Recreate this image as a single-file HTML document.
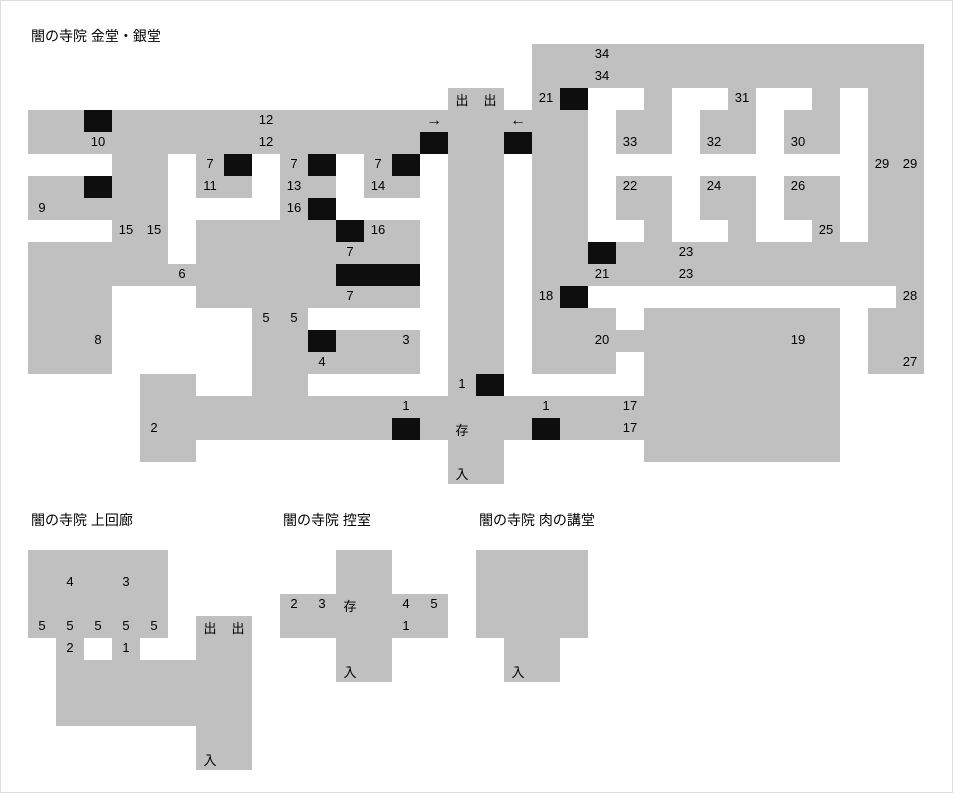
<!DOCTYPE html>
<html><head><meta charset="utf-8"><style>
html,body{margin:0;padding:0;background:#fff}
#w{position:relative;width:953px;height:793px;overflow:hidden}
#bd{position:absolute;left:0;top:0;width:953px;height:793px;box-sizing:border-box;border:1px solid #ddd}
.g,.b,.t,.h{position:absolute}
.g{background:#c0c0c0}
.b{background:#0e0e0e}
.t{width:28px;height:22px;line-height:22px;margin-top:2px;text-align:center;font:13px "Liberation Sans","Noto Sans CJK JP",sans-serif;color:#000}
.a{font-size:16px}
.h{font:14px "Liberation Sans","Noto Sans CJK JP",sans-serif;color:#000;white-space:nowrap;line-height:16px}
</style></head><body><div id="w"><div id="bd"></div>
<div class="h" style="left:31px;top:28px">闇の寺院 金堂・銀堂</div>
<div class="h" style="left:31px;top:512px">闇の寺院 上回廊</div>
<div class="h" style="left:283px;top:512px">闇の寺院 控室</div>
<div class="h" style="left:479px;top:512px">闇の寺院 肉の講堂</div>

<div class="g" style="left:532px;top:44px;width:392px;height:44px"></div>
<div class="g" style="left:448px;top:88px;width:56px;height:396px"></div>
<div class="g" style="left:532px;top:88px;width:28px;height:286px"></div>
<div class="g" style="left:644px;top:88px;width:28px;height:22px"></div>
<div class="g" style="left:728px;top:88px;width:28px;height:22px"></div>
<div class="g" style="left:812px;top:88px;width:28px;height:22px"></div>
<div class="g" style="left:896px;top:88px;width:28px;height:286px"></div>
<div class="g" style="left:868px;top:88px;width:28px;height:198px"></div>
<div class="g" style="left:868px;top:308px;width:28px;height:66px"></div>
<div class="g" style="left:560px;top:110px;width:28px;height:176px"></div>
<div class="g" style="left:560px;top:308px;width:56px;height:66px"></div>
<div class="g" style="left:28px;top:110px;width:420px;height:22px"></div>
<div class="g" style="left:504px;top:110px;width:28px;height:22px"></div>
<div class="g" style="left:28px;top:132px;width:392px;height:22px"></div>
<div class="g" style="left:616px;top:110px;width:56px;height:44px"></div>
<div class="g" style="left:700px;top:110px;width:56px;height:44px"></div>
<div class="g" style="left:784px;top:110px;width:56px;height:44px"></div>
<div class="g" style="left:616px;top:176px;width:56px;height:44px"></div>
<div class="g" style="left:700px;top:176px;width:56px;height:44px"></div>
<div class="g" style="left:784px;top:176px;width:56px;height:44px"></div>
<div class="g" style="left:644px;top:220px;width:28px;height:22px"></div>
<div class="g" style="left:728px;top:220px;width:28px;height:22px"></div>
<div class="g" style="left:812px;top:220px;width:28px;height:22px"></div>
<div class="g" style="left:616px;top:242px;width:308px;height:44px"></div>
<div class="g" style="left:588px;top:264px;width:28px;height:22px"></div>
<div class="g" style="left:112px;top:154px;width:56px;height:22px"></div>
<div class="g" style="left:196px;top:154px;width:28px;height:22px"></div>
<div class="g" style="left:280px;top:154px;width:28px;height:22px"></div>
<div class="g" style="left:364px;top:154px;width:28px;height:22px"></div>
<div class="g" style="left:28px;top:176px;width:56px;height:22px"></div>
<div class="g" style="left:112px;top:176px;width:56px;height:22px"></div>
<div class="g" style="left:196px;top:176px;width:56px;height:22px"></div>
<div class="g" style="left:280px;top:176px;width:56px;height:22px"></div>
<div class="g" style="left:364px;top:176px;width:56px;height:22px"></div>
<div class="g" style="left:28px;top:198px;width:140px;height:22px"></div>
<div class="g" style="left:280px;top:198px;width:28px;height:22px"></div>
<div class="g" style="left:112px;top:220px;width:56px;height:22px"></div>
<div class="g" style="left:196px;top:220px;width:140px;height:22px"></div>
<div class="g" style="left:364px;top:220px;width:56px;height:22px"></div>
<div class="g" style="left:28px;top:242px;width:140px;height:22px"></div>
<div class="g" style="left:196px;top:242px;width:224px;height:22px"></div>
<div class="g" style="left:28px;top:264px;width:308px;height:22px"></div>
<div class="g" style="left:28px;top:286px;width:84px;height:88px"></div>
<div class="g" style="left:196px;top:286px;width:224px;height:22px"></div>
<div class="g" style="left:252px;top:308px;width:56px;height:88px"></div>
<div class="g" style="left:308px;top:330px;width:112px;height:44px"></div>
<div class="g" style="left:140px;top:374px;width:56px;height:88px"></div>
<div class="g" style="left:196px;top:396px;width:644px;height:44px"></div>
<div class="g" style="left:644px;top:308px;width:196px;height:154px"></div>
<div class="g" style="left:616px;top:330px;width:28px;height:22px"></div>

<div class="b" style="left:560px;top:88px;width:28px;height:22px"></div>
<div class="b" style="left:84px;top:110px;width:28px;height:22px"></div>
<div class="b" style="left:420px;top:132px;width:28px;height:22px"></div>
<div class="b" style="left:504px;top:132px;width:28px;height:22px"></div>
<div class="b" style="left:224px;top:154px;width:28px;height:22px"></div>
<div class="b" style="left:308px;top:154px;width:28px;height:22px"></div>
<div class="b" style="left:392px;top:154px;width:28px;height:22px"></div>
<div class="b" style="left:84px;top:176px;width:28px;height:22px"></div>
<div class="b" style="left:308px;top:198px;width:28px;height:22px"></div>
<div class="b" style="left:336px;top:220px;width:28px;height:22px"></div>
<div class="b" style="left:588px;top:242px;width:28px;height:22px"></div>
<div class="b" style="left:336px;top:264px;width:84px;height:22px"></div>
<div class="b" style="left:560px;top:286px;width:28px;height:22px"></div>
<div class="b" style="left:308px;top:330px;width:28px;height:22px"></div>
<div class="b" style="left:476px;top:374px;width:28px;height:22px"></div>
<div class="b" style="left:392px;top:418px;width:28px;height:22px"></div>
<div class="b" style="left:532px;top:418px;width:28px;height:22px"></div>

<div class="t" style="left:588px;top:44px">34</div>
<div class="t" style="left:588px;top:66px">34</div>
<div class="t" style="left:448px;top:88px">出</div>
<div class="t" style="left:476px;top:88px">出</div>
<div class="t" style="left:532px;top:88px">21</div>
<div class="t" style="left:728px;top:88px">31</div>
<div class="t" style="left:252px;top:110px">12</div>
<div class="t a" style="left:420px;top:110px">→</div>
<div class="t a" style="left:504px;top:110px">←</div>
<div class="t" style="left:84px;top:132px">10</div>
<div class="t" style="left:252px;top:132px">12</div>
<div class="t" style="left:616px;top:132px">33</div>
<div class="t" style="left:700px;top:132px">32</div>
<div class="t" style="left:784px;top:132px">30</div>
<div class="t" style="left:196px;top:154px">7</div>
<div class="t" style="left:280px;top:154px">7</div>
<div class="t" style="left:364px;top:154px">7</div>
<div class="t" style="left:868px;top:154px">29</div>
<div class="t" style="left:896px;top:154px">29</div>
<div class="t" style="left:196px;top:176px">11</div>
<div class="t" style="left:280px;top:176px">13</div>
<div class="t" style="left:364px;top:176px">14</div>
<div class="t" style="left:616px;top:176px">22</div>
<div class="t" style="left:700px;top:176px">24</div>
<div class="t" style="left:784px;top:176px">26</div>
<div class="t" style="left:28px;top:198px">9</div>
<div class="t" style="left:280px;top:198px">16</div>
<div class="t" style="left:112px;top:220px">15</div>
<div class="t" style="left:140px;top:220px">15</div>
<div class="t" style="left:364px;top:220px">16</div>
<div class="t" style="left:812px;top:220px">25</div>
<div class="t" style="left:336px;top:242px">7</div>
<div class="t" style="left:672px;top:242px">23</div>
<div class="t" style="left:168px;top:264px">6</div>
<div class="t" style="left:588px;top:264px">21</div>
<div class="t" style="left:672px;top:264px">23</div>
<div class="t" style="left:336px;top:286px">7</div>
<div class="t" style="left:532px;top:286px">18</div>
<div class="t" style="left:896px;top:286px">28</div>
<div class="t" style="left:252px;top:308px">5</div>
<div class="t" style="left:280px;top:308px">5</div>
<div class="t" style="left:84px;top:330px">8</div>
<div class="t" style="left:392px;top:330px">3</div>
<div class="t" style="left:588px;top:330px">20</div>
<div class="t" style="left:784px;top:330px">19</div>
<div class="t" style="left:308px;top:352px">4</div>
<div class="t" style="left:896px;top:352px">27</div>
<div class="t" style="left:448px;top:374px">1</div>
<div class="t" style="left:392px;top:396px">1</div>
<div class="t" style="left:532px;top:396px">1</div>
<div class="t" style="left:616px;top:396px">17</div>
<div class="t" style="left:140px;top:418px">2</div>
<div class="t" style="left:448px;top:418px">存</div>
<div class="t" style="left:616px;top:418px">17</div>
<div class="t" style="left:448px;top:462px">入</div>

<div class="g" style="left:28px;top:550px;width:140px;height:88px"></div>
<div class="g" style="left:196px;top:616px;width:56px;height:154px"></div>
<div class="g" style="left:56px;top:638px;width:28px;height:22px"></div>
<div class="g" style="left:112px;top:638px;width:28px;height:22px"></div>
<div class="g" style="left:56px;top:660px;width:196px;height:66px"></div>
<div class="t" style="left:56px;top:572px">4</div>
<div class="t" style="left:112px;top:572px">3</div>
<div class="t" style="left:28px;top:616px">5</div>
<div class="t" style="left:56px;top:616px">5</div>
<div class="t" style="left:84px;top:616px">5</div>
<div class="t" style="left:112px;top:616px">5</div>
<div class="t" style="left:140px;top:616px">5</div>
<div class="t" style="left:196px;top:616px">出</div>
<div class="t" style="left:224px;top:616px">出</div>
<div class="t" style="left:56px;top:638px">2</div>
<div class="t" style="left:112px;top:638px">1</div>
<div class="t" style="left:196px;top:748px">入</div>

<div class="g" style="left:336px;top:550px;width:56px;height:132px"></div>
<div class="g" style="left:280px;top:594px;width:168px;height:44px"></div>
<div class="t" style="left:280px;top:594px">2</div>
<div class="t" style="left:308px;top:594px">3</div>
<div class="t" style="left:336px;top:594px">存</div>
<div class="t" style="left:392px;top:594px">4</div>
<div class="t" style="left:420px;top:594px">5</div>
<div class="t" style="left:392px;top:616px">1</div>
<div class="t" style="left:336px;top:660px">入</div>

<div class="g" style="left:476px;top:550px;width:112px;height:88px"></div>
<div class="g" style="left:504px;top:638px;width:56px;height:44px"></div>
<div class="t" style="left:504px;top:660px">入</div>
</div></body></html>
